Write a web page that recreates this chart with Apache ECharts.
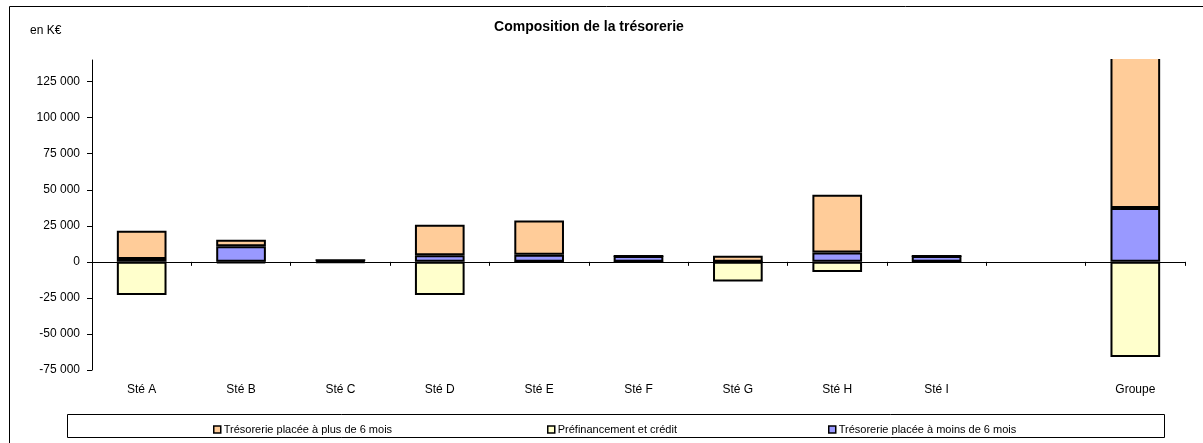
<!DOCTYPE html>
<html>
<head>
<meta charset="utf-8">
<script src="https://cdn.jsdelivr.net/npm/echarts@6/dist/echarts.min.js"></script>
<style>
html,body{margin:0;padding:0;background:#fff;}
#c{width:1203px;height:443px;}
</style>
</head>
<body>
<div id="c"></div>
<script>
const categories = ['Sté A','Sté B','Sté C','Sté D','Sté E','Sté F','Sté G','Sté H','Sté I','','Groupe'];
const moinsDe6Mois = [2000, 10800, 1200, 4500, 5000, 4000, 0, 6500, 4000, null, 37300];
const plusDe6Mois = [19500, 4500, 0, 21200, 23700, 0, 4200, 40000, 0, null, 114000];
const prefinancement = [-23000, -800, -500, -23000, -300, -200, -13700, -7000, -300, null, -66000];
const yTicks = [-75000, -50000, -25000, 0, 25000, 50000, 75000, 100000, 125000];

const names = {
  plus: 'Trésorerie placée à plus de 6 mois',
  pref: 'Préfinancement et crédit',
  moins: 'Trésorerie placée à moins de 6 mois'
};
const colors = { plus: '#FFCC99', pref: '#FFFFCC', moins: '#9999FF' };
const font = 'Liberation Sans, Arial, sans-serif';

function fmt(v){
  const s = Math.abs(v).toString().replace(/\B(?=(\d{3})+(?!\d))/g, ' ');
  return (v < 0 ? '-' : '') + s;
}

const chart = echarts.init(document.getElementById('c'), null, {renderer:'canvas'});
const barStyle = c => ({ color: c, borderColor: '#000', borderWidth: 2 });
const legendCommon = {
  top: 419, itemWidth: 7, itemHeight: 7, itemGap: 3,
  textStyle: { fontFamily: font, fontSize: 11, color: '#000', padding: [0,0,0,-2] },
  icon: 'rect', selectedMode: false,
  itemStyle: { borderColor: '#000', borderWidth: 1.5 }
};
chart.setOption({
  animation: false,
  textStyle: { fontFamily: font },
  title: {
    text: 'Composition de la trésorerie',
    left: 584, top: 15, textAlign: 'center', z: 10,
    textStyle: { fontFamily: font, fontSize: 14, fontWeight: 'bold', color: '#000' }
  },
  graphic: [
    { type: 'rect', shape: { x: 9.5, y: 6.5, width: 1300, height: 500 }, style: { fill: null, stroke: '#000', lineWidth: 1 }, z: 0 },
    { type: 'rect', shape: { x: 93, y: 8, width: 1092, height: 51 }, style: { fill: '#fff' }, z: 5 },
    { type: 'rect', shape: { x: 67.5, y: 414.5, width: 1097, height: 23 }, style: { fill: '#fff', stroke: '#000', lineWidth: 1 }, z: 0 },
    { type: 'text', left: 30, top: 25, z: 10, style: { text: 'en K€', font: '12px ' + font, fill: '#000' } }
  ],
  legend: [
    Object.assign({ left: 208, data: [names.plus] }, legendCommon),
    Object.assign({ left: 542, data: [names.pref] }, legendCommon),
    Object.assign({ left: 823, data: [names.moins] }, legendCommon)
  ],
  grid: { left: 92, right: 18, top: 60, bottom: 73, containLabel: false },
  xAxis: [
    {
      type: 'category', data: categories, position: 'bottom',
      axisLine: { onZero: true, lineStyle: { color: '#000', width: 1 } },
      axisTick: { show: true, length: 4, lineStyle: { color: '#000' } },
      axisLabel: { show: false }
    },
    {
      type: 'category', data: categories, position: 'bottom',
      axisLine: { show: false, onZero: false },
      axisTick: { show: false },
      axisLabel: { show: true, margin: 14, fontFamily: font, fontSize: 12, color: '#000' }
    }
  ],
  yAxis: {
    type: 'value', min: -75000, max: 140000, interval: 25000,
    splitLine: { show: false },
    axisLine: { show: true, lineStyle: { color: '#000', width: 1 } },
    axisTick: { show: true, length: 5, inside: false, lineStyle: { color: '#000' },
      customValues: yTicks },
    axisLabel: { fontFamily: font, fontSize: 12, color: '#000', margin: 12,
      customValues: yTicks, formatter: v => fmt(v) }
  },
  series: [
    { name: names.moins, type: 'bar', stack: 't', barWidth: '50%', clip: false, data: moinsDe6Mois, itemStyle: barStyle(colors.moins), z: 2 },
    { name: names.plus, type: 'bar', stack: 't', barWidth: '50%', clip: false, data: plusDe6Mois, itemStyle: barStyle(colors.plus), z: 2 },
    { name: names.pref, type: 'bar', stack: 't', barWidth: '50%', clip: false, data: prefinancement, itemStyle: barStyle(colors.pref), z: 2 }
  ]
});
</script>
</body>
</html>
